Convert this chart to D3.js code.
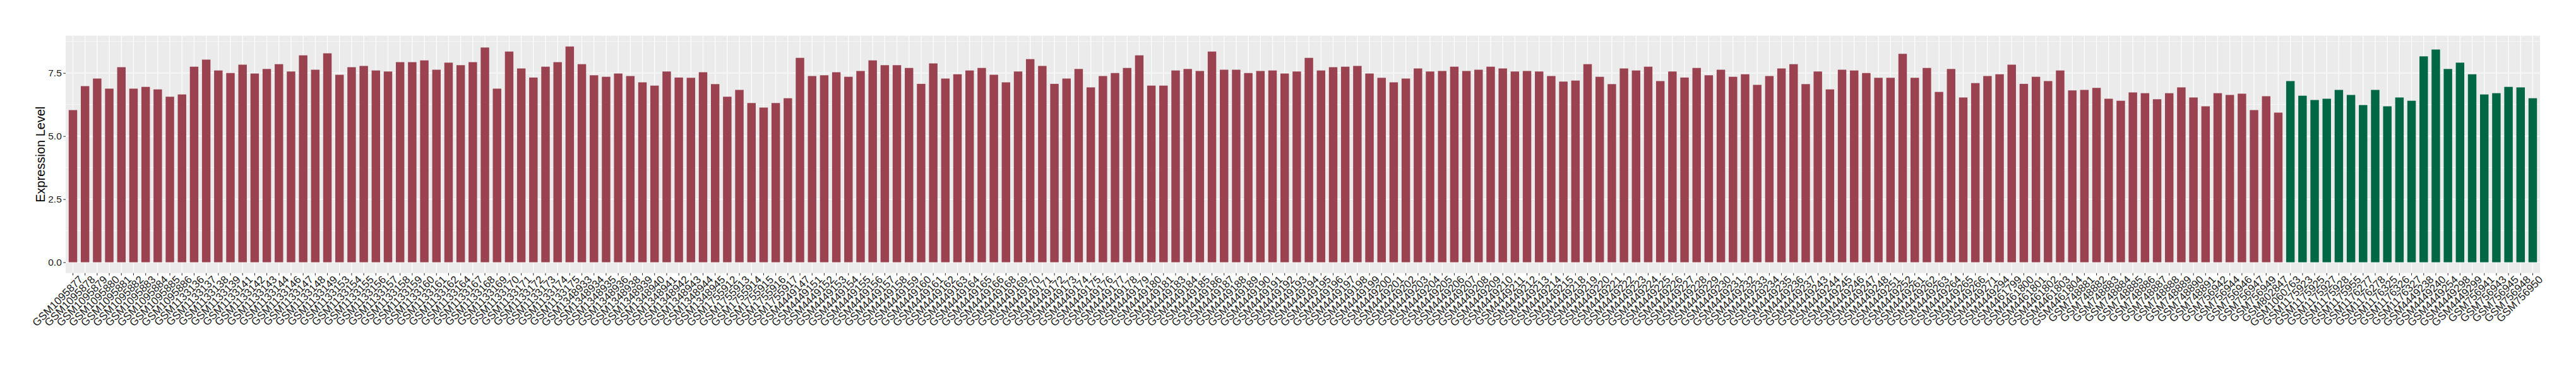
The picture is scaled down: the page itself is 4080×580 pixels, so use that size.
<!DOCTYPE html>
<html>
<head>
<meta charset="utf-8">
<script src="https://cdn.jsdelivr.net/npm/d3@7"></script>
<style>
  body { margin: 0; background: #fff; }
  svg text { font-family: "Liberation Sans", Arial, sans-serif; }
</style>
</head>
<body>
<svg id="chart"></svg>
<script>
// samples (red group first, then green group)
const redSamples = [
    "GSM1095877", "GSM1095878", "GSM1095879", "GSM1095880", "GSM1095881", "GSM1095882", "GSM1095883", "GSM1095884", "GSM1095885", "GSM1095886",
    "GSM1133136", "GSM1133137", "GSM1133138", "GSM1133139", "GSM1133141", "GSM1133142", "GSM1133143", "GSM1133144", "GSM1133146", "GSM1133147",
    "GSM1133148", "GSM1133149", "GSM1133153", "GSM1133154", "GSM1133155", "GSM1133156", "GSM1133157", "GSM1133158", "GSM1133159", "GSM1133160",
    "GSM1133161", "GSM1133162", "GSM1133164", "GSM1133167", "GSM1133168", "GSM1133169", "GSM1133170", "GSM1133171", "GSM1133172", "GSM1133173",
    "GSM1133174", "GSM1133175",
    "GSM1348933", "GSM1348934", "GSM1348935", "GSM1348936", "GSM1348938", "GSM1348939", "GSM1348940", "GSM1348941", "GSM1348942", "GSM1348943",
    "GSM1348944", "GSM1348945",
    "GSM1755912", "GSM1755913", "GSM1755914", "GSM1755915", "GSM1755916", "GSM1755917",
    "GSM4449147", "GSM4449151", "GSM4449152", "GSM4449153", "GSM4449154", "GSM4449155", "GSM4449156", "GSM4449157", "GSM4449158", "GSM4449159",
    "GSM4449160", "GSM4449161", "GSM4449162", "GSM4449163", "GSM4449164", "GSM4449165", "GSM4449166", "GSM4449168", "GSM4449169", "GSM4449170",
    "GSM4449171", "GSM4449172", "GSM4449173", "GSM4449174", "GSM4449175", "GSM4449176", "GSM4449177", "GSM4449178", "GSM4449179", "GSM4449180",
    "GSM4449181", "GSM4449183", "GSM4449184", "GSM4449185", "GSM4449186", "GSM4449187", "GSM4449188", "GSM4449189", "GSM4449190", "GSM4449191",
    "GSM4449192", "GSM4449193", "GSM4449194", "GSM4449195", "GSM4449196", "GSM4449197", "GSM4449198", "GSM4449199", "GSM4449200", "GSM4449201",
    "GSM4449202", "GSM4449203", "GSM4449204", "GSM4449205", "GSM4449206", "GSM4449207", "GSM4449208", "GSM4449209", "GSM4449210", "GSM4449211",
    "GSM4449212", "GSM4449213", "GSM4449214", "GSM4449215", "GSM4449218", "GSM4449219", "GSM4449220", "GSM4449221", "GSM4449222", "GSM4449223",
    "GSM4449224", "GSM4449225", "GSM4449226", "GSM4449227", "GSM4449228", "GSM4449229", "GSM4449230", "GSM4449231", "GSM4449232", "GSM4449233",
    "GSM4449234", "GSM4449235", "GSM4449236", "GSM4449237", "GSM4449243", "GSM4449244", "GSM4449245", "GSM4449246", "GSM4449247", "GSM4449248",
    "GSM4449251", "GSM4449252", "GSM4449261", "GSM4449262", "GSM4449263", "GSM4449264", "GSM4449265", "GSM4449266", "GSM4449271", "GSM4449294",
    "GSM4461799", "GSM4461800", "GSM4461801", "GSM4461802", "GSM4461803", "GSM4461804",
    "GSM748881", "GSM748882", "GSM748883", "GSM748884", "GSM748885", "GSM748886", "GSM748887", "GSM748888", "GSM748889", "GSM748890",
    "GSM748891",
    "GSM756942", "GSM756944", "GSM756946", "GSM756947", "GSM756949",
    "GSM802847"
];
const redValues = [
    6.03, 6.98, 7.28, 6.88, 7.73, 6.88, 6.95, 6.85, 6.56, 6.65,
    7.75, 8.03, 7.60, 7.50, 7.83, 7.48, 7.66, 7.85, 7.56, 8.20,
    7.63, 8.28, 7.43, 7.73, 7.78, 7.60, 7.56, 7.93, 7.93, 8.00,
    7.63, 7.91, 7.81, 7.93, 8.51, 6.88, 8.35, 7.68, 7.32, 7.75,
    7.93, 8.55,
    7.85, 7.41, 7.35, 7.48, 7.38, 7.13, 7.00, 7.56, 7.32, 7.31,
    7.53, 7.06,
    6.56, 6.83, 6.31, 6.13, 6.31, 6.50,
    8.10, 7.38, 7.41, 7.53, 7.35, 7.58, 8.00, 7.81, 7.81, 7.70,
    7.07, 7.88, 7.28, 7.45, 7.60, 7.70, 7.43, 7.13, 7.56, 8.05,
    7.78, 7.07, 7.28, 7.66, 6.93, 7.38, 7.50, 7.70, 8.20, 7.00,
    7.00, 7.60, 7.66, 7.58, 8.35, 7.63, 7.63, 7.50, 7.58, 7.60,
    7.48, 7.56, 8.10, 7.60, 7.73, 7.75, 7.78, 7.48, 7.31, 7.13,
    7.28, 7.68, 7.56, 7.58, 7.75, 7.58, 7.63, 7.75, 7.68, 7.56,
    7.58, 7.56, 7.38, 7.16, 7.20, 7.85, 7.35, 7.06, 7.68, 7.60,
    7.75, 7.18, 7.56, 7.32, 7.70, 7.41, 7.63, 7.35, 7.45, 7.03,
    7.38, 7.68, 7.85, 7.06, 7.56, 6.85, 7.63, 7.60, 7.50, 7.31,
    7.31, 8.26, 7.31, 7.70, 6.75, 7.66, 6.53, 7.10, 7.38, 7.45,
    7.83, 7.07, 7.35, 7.18, 7.60, 6.81,
    6.83, 6.91, 6.48, 6.40, 6.73, 6.70, 6.46, 6.70, 6.93, 6.53,
    6.18,
    6.70, 6.63, 6.68, 6.03, 6.58,
    5.93
];
const greenSamples = [
    "GSM1060763", "GSM1175923", "GSM1175925", "GSM1175927", "GSM1175928", "GSM1175955", "GSM1176277", "GSM1176278",
    "GSM1176325", "GSM1176326", "GSM1176327", "GSM4449238", "GSM4449240", "GSM4449254", "GSM4449298", "GSM4449299",
    "GSM756941", "GSM756943", "GSM756945", "GSM756948", "GSM756950"
];
const greenValues = [
    7.18, 6.60, 6.43, 6.48, 6.83, 6.63, 6.23, 6.83,
    6.18, 6.53, 6.40, 8.16, 8.43, 7.66, 7.91, 7.45,
    6.65, 6.70, 6.95, 6.93, 6.50
];
const yTicks = [0, 2.5, 5, 7.5];
const yMinorTicks = [1.25, 3.75, 6.25, 8.75];
const yTitle = "Expression Level";
const redColor = "#9A4250";
const greenColor = "#006745";

let bars = [];
redSamples.forEach((s, i) => bars.push({ sample: s, value: redValues[i], color: redColor }));
greenSamples.forEach((s, i) => bars.push({ sample: s, value: greenValues[i], color: greenColor }));

const W = 4080, H = 580;
const panel = { left: 104, right: 4023, top: 56.6, bottom: 432.7 };

const svg = d3.select("#chart")
    .attr("width", W)
    .attr("height", H);

svg.append("rect").attr("width", W).attr("height", H).attr("fill", "#fff");

// ggplot-like discrete scale: 0.6 step padding each side, bars 0.7 wide
const x = d3.scaleBand()
    .domain(bars.map(d => d.sample))
    .range([panel.left, panel.right])
    .paddingInner(0.3)
    .paddingOuter(0.25);

const maxV = d3.max(bars, d => d.value);
const pad = maxV * 0.05;
const y = d3.scaleLinear()
    .domain([-pad, maxV + pad])
    .range([panel.bottom, panel.top]);

svg.append("rect")
    .attr("x", panel.left)
    .attr("y", panel.top)
    .attr("width", panel.right - panel.left)
    .attr("height", panel.bottom - panel.top)
    .attr("fill", "#EBEBEB");

// grid lines
svg.append("g").selectAll("line.minor")
    .data(yMinorTicks)
    .join("line")
    .attr("x1", panel.left).attr("x2", panel.right)
    .attr("y1", d => y(d)).attr("y2", d => y(d))
    .attr("stroke", "#fff").attr("stroke-width", 0.6);

svg.append("g").selectAll("line.major")
    .data(yTicks)
    .join("line")
    .attr("x1", panel.left).attr("x2", panel.right)
    .attr("y1", d => y(d)).attr("y2", d => y(d))
    .attr("stroke", "#fff").attr("stroke-width", 1.2);

svg.append("g").selectAll("line")
    .data(bars)
    .join("line")
    .attr("x1", d => x(d.sample) + x.bandwidth() / 2)
    .attr("x2", d => x(d.sample) + x.bandwidth() / 2)
    .attr("y1", panel.top).attr("y2", panel.bottom)
    .attr("stroke", "#fff").attr("stroke-width", 1.2);

// bars
svg.append("g").selectAll("rect")
    .data(bars)
    .join("rect")
    .attr("x", d => x(d.sample))
    .attr("width", x.bandwidth())
    .attr("y", d => y(d.value))
    .attr("height", d => y(0) - y(d.value))
    .attr("fill", d => d.color);

// y axis
const yAxis = svg.append("g")
    .attr("transform", `translate(${panel.left},0)`)
    .call(d3.axisLeft(y).tickValues(yTicks).tickFormat(d3.format(".1f")).tickSize(3.7).tickPadding(2.5));
yAxis.select(".domain").remove();
yAxis.selectAll(".tick line").attr("stroke", "#333").attr("stroke-width", 1.1);
yAxis.selectAll(".tick text")
    .attr("fill", "#1a1a1a")
    .style("font-size", "15.5px")
    .style("font-family", "Liberation Sans, Arial, sans-serif");

// x axis
const xAxis = svg.append("g")
    .attr("transform", `translate(0,${panel.bottom})`)
    .call(d3.axisBottom(x).tickSize(3.7).tickPadding(3));
xAxis.select(".domain").remove();
xAxis.selectAll(".tick line").attr("stroke", "#333").attr("stroke-width", 1.1);
xAxis.selectAll(".tick text")
    .attr("fill", "#1a1a1a")
    .style("font-size", "17px")
    .style("font-family", "Liberation Sans, Arial, sans-serif")
    .attr("text-anchor", "end")
    .attr("x", 4)
    .attr("y", 8)
    .attr("dy", "0.71em")
    .attr("transform", "rotate(-45)");

// y title
svg.append("text")
    .attr("transform", `translate(71,${(panel.top + panel.bottom) / 2}) rotate(-90)`)
    .attr("text-anchor", "middle")
    .attr("fill", "#000")
    .style("font-size", "20px")
    .text(yTitle);
</script>
</body>
</html>
